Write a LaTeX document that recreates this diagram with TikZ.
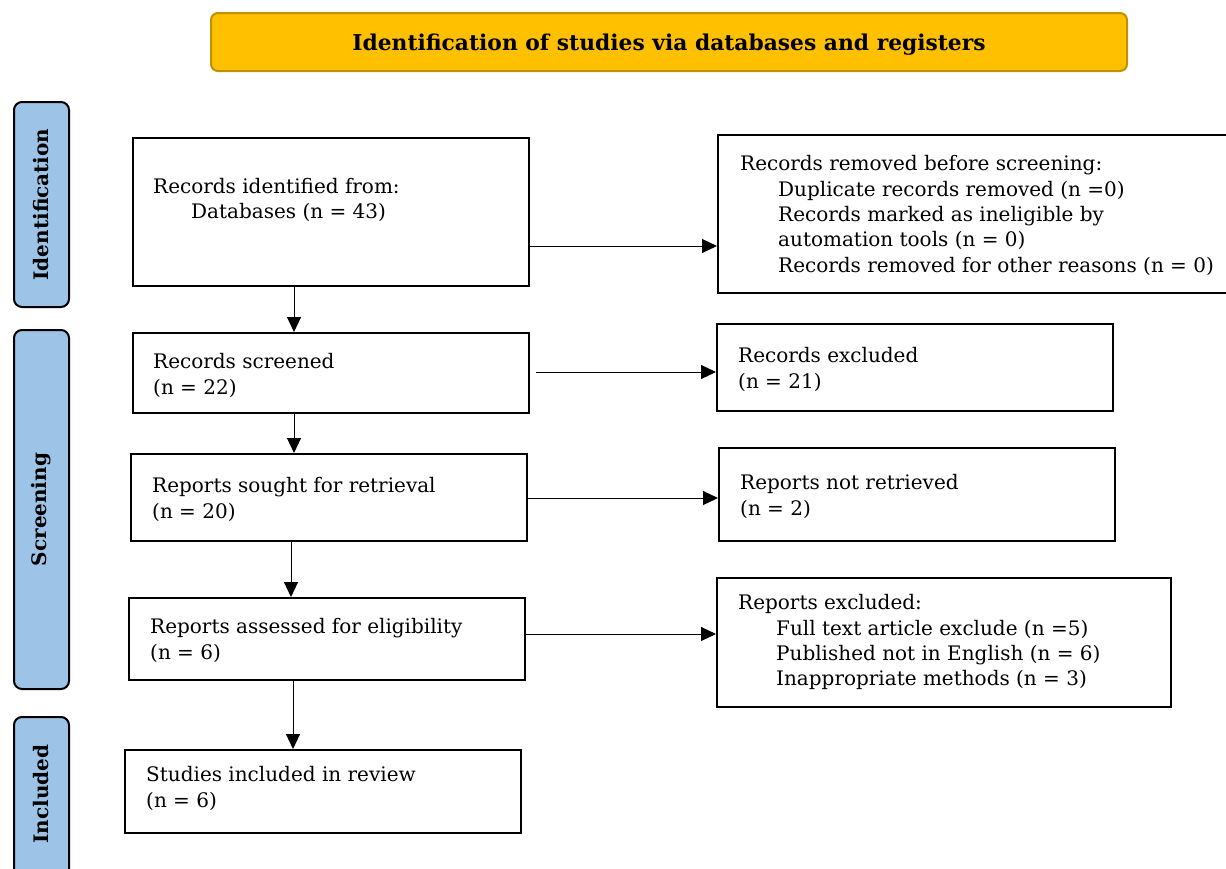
\documentclass[tikz,border=0pt]{standalone}
\usepackage{fontspec}
\setmainfont{DejaVu Serif}
\usetikzlibrary{arrows.meta}
\definecolor{titlefill}{HTML}{FFC000}
\definecolor{titledraw}{HTML}{BF9000}
\definecolor{sidefill}{HTML}{9DC3E6}
\newcommand{\bodyfont}{\fontsize{20}{25.3}\selectfont}
\newcommand{\ind}{\hspace*{38pt}}
\tikzset{
  x=1pt, y=-1pt,
  box/.style={draw=black, line width=2pt, fill=white, inner sep=0pt, rectangle},
  lbl/.style={anchor=north west, inner sep=0pt, align=left, font=\bodyfont},
  side/.style={draw=black, line width=2pt, fill=sidefill, rounded corners=8pt, inner sep=0pt},
  sidetext/.style={rotate=90, font=\bfseries\fontsize{20}{24}\selectfont, inner sep=0pt},
  arr/.style={-{Triangle[length=15pt,width=14pt]}, line width=1pt},
}
\begin{document}
\begin{tikzpicture}
\useasboundingbox (0,0) rectangle (1226,868);
% title
\node[draw=titledraw, line width=2pt, fill=titlefill, rounded corners=7pt,
      minimum width=916pt, minimum height=58pt, inner sep=0pt] (title) at (669,42) {};
\node[font=\bfseries\fontsize{21.8}{24}\selectfont, inner sep=0pt] (titlet) at (669,44.5) {Identification of studies via databases and registers};
% side bars
\node[side, minimum width=55pt, minimum height=205pt] (s1) at (41.5,204.5) {};
\node[sidetext] (s1t) at (s1.center) {Identification};
\node[side, minimum width=55pt, minimum height=359pt] (s2) at (41.5,509.5) {};
\node[sidetext] (s2t) at (s2.center) {Screening};
\node[side, minimum width=55pt, minimum height=173pt] (s3) at (41.5,803.5) {};
\node[sidetext] (s3t) at (41.5,794) {Included};
% left column boxes
\node[box, minimum width=396pt, minimum height=148pt] (b1) at (331,212) {};
\node[lbl] (b1t) at (153,175.5) {\strut Records identified from:\\ \ind Databases (n = 43)};
\node[box, minimum width=396pt, minimum height=80pt] (b2) at (331,373) {};
\node[lbl] (b2t) at (153,351) {\strut Records screened\\(n = 22)};
\node[box, minimum width=396pt, minimum height=87pt] (b3) at (329,497.5) {};
\node[lbl] (b3t) at (152,475) {\strut Reports sought for retrieval\\(n = 20)};
\node[box, minimum width=396pt, minimum height=82pt] (b4) at (327,639) {};
\node[lbl] (b4t) at (150,616) {\strut Reports assessed for eligibility\\(n = 6)};
\node[box, minimum width=396pt, minimum height=83pt] (b5) at (323,791.5) {};
\node[lbl] (b5t) at (146,764) {\strut Studies included in review\\(n = 6)};
% right column boxes
\node[box, minimum width=520pt, minimum height=158pt] (r1) at (978,214) {};
\node[lbl] (r1t) at (740,153) {\strut Records removed before screening:\\
  \ind Duplicate records removed (n =0)\\
  \ind Records marked as ineligible by\\
  \ind automation tools (n = 0)\\
  \ind Records removed for other reasons (n = 0)};
\node[box, minimum width=396pt, minimum height=87pt] (r2) at (915,367.5) {};
\node[lbl] (r2t) at (738,345) {\strut Records excluded\\(n = 21)};
\node[box, minimum width=396pt, minimum height=93pt] (r3) at (917,494.5) {};
\node[lbl] (r3t) at (740,472) {\strut Reports not retrieved\\(n = 2)};
\node[box, minimum width=454pt, minimum height=129pt] (r4) at (944,642.5) {};
\node[lbl] (r4t) at (738,592) {\strut Reports excluded:\\
  \ind Full text article exclude (n =5)\\
  \ind Published not in English (n = 6)\\
  \ind Inappropriate methods (n = 3)};
% arrows
\draw[arr] (b1.east |- 0,246) -- (r1.west |- 0,246);
\draw[arr, shorten <=6pt] (b2.east |- 0,372) -- (r2.west |- 0,372);
\draw[arr] (b3.east |- 0,498) -- (r3.west |- 0,498);
\draw[arr] (b4.east |- 0,634) -- (r4.west |- 0,634);
\draw[arr] (b1.south -| 294,0) -- (b2.north -| 294,0);
\draw[arr] (b2.south -| 294,0) -- (b3.north -| 294,0);
\draw[arr] (b3.south -| 291,0) -- (b4.north -| 291,0);
\draw[arr] (b4.south -| 293,0) -- (b5.north -| 293,0);
\end{tikzpicture}
\end{document}
